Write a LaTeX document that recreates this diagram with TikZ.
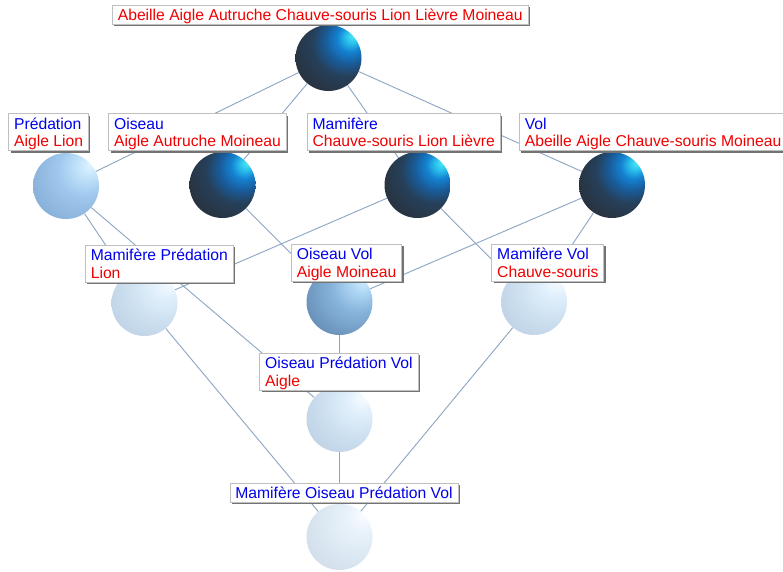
\documentclass[tikz,border=0pt]{standalone}
\usepackage{fontspec}
\setmainfont{Liberation Sans}
\usetikzlibrary{shadows}
\definecolor{edgec}{RGB}{140,165,195}
\definecolor{lblue}{RGB}{0,0,235}
\definecolor{lred}{RGB}{240,0,0}
% dark ball
\definecolor{dk0}{RGB}{80,235,245}
\definecolor{dk1}{RGB}{40,190,235}
\definecolor{dk2}{RGB}{20,130,210}
\definecolor{dk3}{RGB}{25,92,155}
\definecolor{dk4}{RGB}{38,64,90}
\definecolor{dk5}{RGB}{40,52,66}
\definecolor{dk6}{RGB}{30,38,48}
% light blue ball
\definecolor{lb0}{RGB}{225,245,255}
\definecolor{lb1}{RGB}{195,228,250}
\definecolor{lb2}{RGB}{160,200,238}
\definecolor{lb3}{RGB}{140,180,220}
\definecolor{lb4}{RGB}{112,150,190}
\definecolor{lb5}{RGB}{90,125,162}
% medium ball
\definecolor{md0}{RGB}{210,236,252}
\definecolor{md1}{RGB}{175,215,245}
\definecolor{md2}{RGB}{135,180,220}
\definecolor{md3}{RGB}{110,150,190}
\definecolor{md4}{RGB}{80,110,142}
\definecolor{md5}{RGB}{60,82,105}
% pale ball
\definecolor{pl0}{RGB}{248,252,255}
\definecolor{pl1}{RGB}{225,240,252}
\definecolor{pl2}{RGB}{205,224,240}
\definecolor{pl3}{RGB}{185,205,225}
\definecolor{pl4}{RGB}{165,185,208}
% palest ball
\definecolor{ps0}{RGB}{250,253,255}
\definecolor{ps1}{RGB}{234,243,251}
\definecolor{ps2}{RGB}{220,232,242}
\definecolor{ps3}{RGB}{205,218,232}
\definecolor{ps4}{RGB}{190,204,220}
\pgfdeclareradialshading{darkball}{\pgfpoint{19bp}{17bp}}{color(0bp)=(dk0); color(5bp)=(dk1); color(10bp)=(dk2); color(17bp)=(dk3); color(25bp)=(dk4); color(36bp)=(dk5); color(75bp)=(dk6)}
\pgfdeclareradialshading{lightball}{\pgfpoint{19bp}{17bp}}{color(0bp)=(lb0); color(8bp)=(lb1); color(20bp)=(lb2); color(35bp)=(lb3); color(55bp)=(lb4); color(75bp)=(lb5)}
\pgfdeclareradialshading{medball}{\pgfpoint{19bp}{17bp}}{color(0bp)=(md0); color(8bp)=(md1); color(20bp)=(md2); color(35bp)=(md3); color(55bp)=(md4); color(75bp)=(md5)}
\pgfdeclareradialshading{paleball}{\pgfpoint{19bp}{17bp}}{color(0bp)=(pl0); color(10bp)=(pl1); color(25bp)=(pl2); color(45bp)=(pl3); color(75bp)=(pl4)}
\pgfdeclareradialshading{palestball}{\pgfpoint{19bp}{17bp}}{color(0bp)=(ps0); color(10bp)=(ps1); color(25bp)=(ps2); color(45bp)=(ps3); color(75bp)=(ps4)}
\pgfdeclarelayer{edges}
\pgfsetlayers{edges,main}
\tikzset{
  sphere/.style={circle, minimum size=66pt, inner sep=0pt, draw=none},
  edge/.style={draw=edgec, line width=0.9pt},
  lab/.style={anchor=north west, fill=white, draw=black!25, line width=0.8pt,
    inner xsep=5.4pt, inner ysep=0pt, align=left,
    font=\fontsize{15.7}{17.5}\selectfont,
    drop shadow={shadow xshift=1.8pt, shadow yshift=-1.8pt, fill=black!55, opacity=1}},
}
\newcommand\twolines[2]{\rule{0pt}{15.5pt}\textcolor{lblue}{#1}\\\textcolor{lred}{#2}\rule[-4pt]{0pt}{4pt}}
\newcommand\onered[1]{\rule[-3.5pt]{0pt}{19pt}\textcolor{lred}{#1}}
\newcommand\oneblue[1]{\rule[-3.5pt]{0pt}{19pt}\textcolor{lblue}{#1}}
\begin{document}
\begin{tikzpicture}[x=1pt,y=-1pt]
\useasboundingbox (0,0) rectangle (783,571);
\clip (0,0) rectangle (783,571);
% spheres
\node[sphere, shading=darkball] (T) at (328.5,58) {};
\node[sphere, shading=lightball] (P) at (66,186) {};
\node[sphere, shading=darkball] (O) at (222.5,185) {};
\node[sphere, shading=darkball] (M) at (417.5,185) {};
\node[sphere, shading=darkball] (V) at (612,185) {};
\node[sphere, shading=paleball] (MP) at (144.5,303) {};
\node[sphere, shading=medball] (OV) at (339.5,302) {};
\node[sphere, shading=paleball] (MV) at (534,302) {};
\node[sphere, shading=paleball] (OPV) at (339.5,419) {};
\node[sphere, shading=palestball] (B) at (339.5,537) {};
% edges
\begin{pgfonlayer}{edges}
\fill[white] (0,0) rectangle (783,571);
\draw[edge] (T) -- (P);
\draw[edge] (T) -- (O);
\draw[edge] (T) -- (M);
\draw[edge] (T) -- (V);
\draw[edge] (P) -- (MP);
\draw[edge] (P) -- (OPV);
\draw[edge] (O) -- (OV);
\draw[edge] (M) -- (MP);
\draw[edge] (M) -- (MV);
\draw[edge] (V) -- (OV);
\draw[edge] (V) -- (MV);
\draw[edge] (MP) -- (B);
\draw[edge] (OV) -- (OPV);
\draw[edge] (MV) -- (B);
\draw[edge] (OPV) -- (B);
\end{pgfonlayer}
% labels
\node[lab] (LT) at (112,4.5) {\onered{Abeille Aigle Autruche Chauve-souris Lion Lièvre Moineau}};
\node[lab] (LP) at (8.3,113.3) {\twolines{Prédation}{Aigle Lion}};
\node[lab] (LO) at (108.3,113.3) {\twolines{Oiseau}{Aigle Autruche Moineau}};
\node[lab] (LM) at (306.7,113.3) {\twolines{Mamifère}{Chauve-souris Lion Lièvre}};
\node[lab] (LV) at (519,113.3) {\twolines{Vol}{Abeille Aigle Chauve-souris Moineau}};
\node[lab] (LMP) at (85,245) {\twolines{Mamifère Prédation}{Lion}};
\node[lab] (LOV) at (291,244) {\twolines{Oiseau Vol}{Aigle Moineau}};
\node[lab] (LMV) at (491.4,244) {\twolines{Mamifère Vol}{Chauve-souris}};
\node[lab] (LOPV) at (259.4,352.7) {\twolines{Oiseau Prédation Vol}{Aigle}};
\node[lab] (LB) at (229.5,482.7) {\oneblue{Mamifère Oiseau Prédation Vol}};
\end{tikzpicture}
\end{document}
